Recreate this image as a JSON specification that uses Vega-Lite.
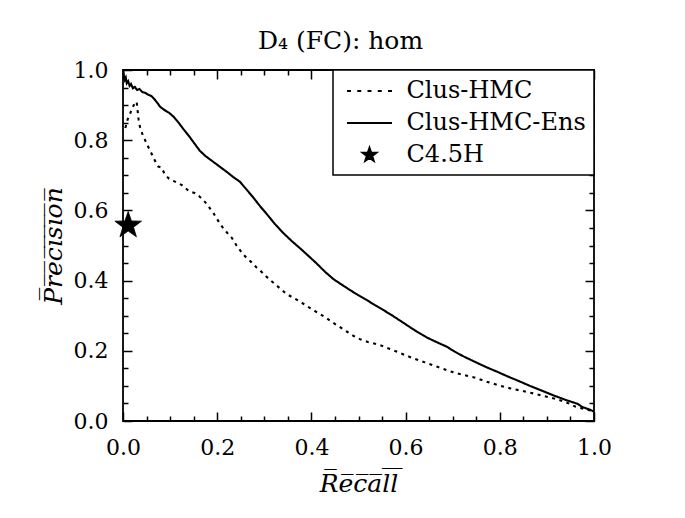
{
  "$schema": "https://vega.github.io/schema/vega-lite/v6.json",
  "width": 471,
  "height": 351,
  "autosize": {"type": "none"},
  "padding": {"left": 123, "top": 70, "right": 91, "bottom": 97},
  "background": "white",
  "title": {"text": "D₄ (FC): hom", "font": "DejaVu Serif", "fontSize": 25, "fontWeight": "normal", "anchor": "middle", "frame": "group", "dx": -18, "offset": 5, "color": "black"},
  "config": {
    "view": {"stroke": "black", "strokeWidth": 1.8},
    "axis": {
      "domain": false,
      "grid": false,
      "zindex": 1,
      "labelFont": "DejaVu Serif",
      "labelFontSize": 22,
      "labelColor": "black",
      "tickColor": "black",
      "tickWidth": 1.5,
      "ticks": true,
      "titleFont": "DejaVu Serif",
      "titleFontSize": 25,
      "titleFontStyle": "italic",
      "titleFontWeight": "normal",
      "titleColor": "black"
    },
    "legend": {
      "orient": "top-right",
      "offset": 0,
      "padding": 8,
      "strokeColor": "black",
      "strokeWidth": 1.5,
      "fillColor": "white",
      "labelFont": "DejaVu Serif",
      "labelFontSize": 24,
      "labelColor": "black",
      "symbolSize": 576,
      "symbolStrokeWidth": 1.8,
      "symbolStrokeColor": "black",
      "symbolOffset": 15.5,
      "labelOffset": 24,
      "rowPadding": 7,
      "labelLimit": 400
    }
  },
  "datasets": {
    "curves": [
      {"series": "Clus-HMC-Ens", "recall": 0.000, "precision": 1.000},
      {"series": "Clus-HMC-Ens", "recall": 0.002, "precision": 0.985},
      {"series": "Clus-HMC-Ens", "recall": 0.004, "precision": 0.972},
      {"series": "Clus-HMC-Ens", "recall": 0.006, "precision": 0.978},
      {"series": "Clus-HMC-Ens", "recall": 0.008, "precision": 0.962},
      {"series": "Clus-HMC-Ens", "recall": 0.011, "precision": 0.968},
      {"series": "Clus-HMC-Ens", "recall": 0.014, "precision": 0.955},
      {"series": "Clus-HMC-Ens", "recall": 0.017, "precision": 0.960},
      {"series": "Clus-HMC-Ens", "recall": 0.021, "precision": 0.948},
      {"series": "Clus-HMC-Ens", "recall": 0.025, "precision": 0.952},
      {"series": "Clus-HMC-Ens", "recall": 0.030, "precision": 0.943},
      {"series": "Clus-HMC-Ens", "recall": 0.035, "precision": 0.946},
      {"series": "Clus-HMC-Ens", "recall": 0.041, "precision": 0.937},
      {"series": "Clus-HMC-Ens", "recall": 0.047, "precision": 0.935},
      {"series": "Clus-HMC-Ens", "recall": 0.053, "precision": 0.930},
      {"series": "Clus-HMC-Ens", "recall": 0.060, "precision": 0.926},
      {"series": "Clus-HMC-Ens", "recall": 0.066, "precision": 0.918},
      {"series": "Clus-HMC-Ens", "recall": 0.072, "precision": 0.908},
      {"series": "Clus-HMC-Ens", "recall": 0.079, "precision": 0.895},
      {"series": "Clus-HMC-Ens", "recall": 0.088, "precision": 0.886},
      {"series": "Clus-HMC-Ens", "recall": 0.098, "precision": 0.878},
      {"series": "Clus-HMC-Ens", "recall": 0.108, "precision": 0.866},
      {"series": "Clus-HMC-Ens", "recall": 0.118, "precision": 0.850},
      {"series": "Clus-HMC-Ens", "recall": 0.128, "precision": 0.832},
      {"series": "Clus-HMC-Ens", "recall": 0.140, "precision": 0.812},
      {"series": "Clus-HMC-Ens", "recall": 0.152, "precision": 0.790},
      {"series": "Clus-HMC-Ens", "recall": 0.163, "precision": 0.770},
      {"series": "Clus-HMC-Ens", "recall": 0.175, "precision": 0.755},
      {"series": "Clus-HMC-Ens", "recall": 0.190, "precision": 0.740},
      {"series": "Clus-HMC-Ens", "recall": 0.206, "precision": 0.724},
      {"series": "Clus-HMC-Ens", "recall": 0.220, "precision": 0.710},
      {"series": "Clus-HMC-Ens", "recall": 0.234, "precision": 0.695},
      {"series": "Clus-HMC-Ens", "recall": 0.248, "precision": 0.682},
      {"series": "Clus-HMC-Ens", "recall": 0.262, "precision": 0.660},
      {"series": "Clus-HMC-Ens", "recall": 0.277, "precision": 0.636},
      {"series": "Clus-HMC-Ens", "recall": 0.291, "precision": 0.612},
      {"series": "Clus-HMC-Ens", "recall": 0.305, "precision": 0.590},
      {"series": "Clus-HMC-Ens", "recall": 0.322, "precision": 0.562},
      {"series": "Clus-HMC-Ens", "recall": 0.340, "precision": 0.536},
      {"series": "Clus-HMC-Ens", "recall": 0.358, "precision": 0.513},
      {"series": "Clus-HMC-Ens", "recall": 0.376, "precision": 0.492},
      {"series": "Clus-HMC-Ens", "recall": 0.394, "precision": 0.470},
      {"series": "Clus-HMC-Ens", "recall": 0.411, "precision": 0.449},
      {"series": "Clus-HMC-Ens", "recall": 0.429, "precision": 0.425},
      {"series": "Clus-HMC-Ens", "recall": 0.447, "precision": 0.404},
      {"series": "Clus-HMC-Ens", "recall": 0.465, "precision": 0.388},
      {"series": "Clus-HMC-Ens", "recall": 0.482, "precision": 0.373},
      {"series": "Clus-HMC-Ens", "recall": 0.500, "precision": 0.358},
      {"series": "Clus-HMC-Ens", "recall": 0.517, "precision": 0.345},
      {"series": "Clus-HMC-Ens", "recall": 0.535, "precision": 0.330},
      {"series": "Clus-HMC-Ens", "recall": 0.553, "precision": 0.316},
      {"series": "Clus-HMC-Ens", "recall": 0.570, "precision": 0.302},
      {"series": "Clus-HMC-Ens", "recall": 0.595, "precision": 0.280},
      {"series": "Clus-HMC-Ens", "recall": 0.620, "precision": 0.258},
      {"series": "Clus-HMC-Ens", "recall": 0.645, "precision": 0.238},
      {"series": "Clus-HMC-Ens", "recall": 0.667, "precision": 0.224},
      {"series": "Clus-HMC-Ens", "recall": 0.687, "precision": 0.212},
      {"series": "Clus-HMC-Ens", "recall": 0.705, "precision": 0.197},
      {"series": "Clus-HMC-Ens", "recall": 0.723, "precision": 0.184},
      {"series": "Clus-HMC-Ens", "recall": 0.748, "precision": 0.168},
      {"series": "Clus-HMC-Ens", "recall": 0.772, "precision": 0.153},
      {"series": "Clus-HMC-Ens", "recall": 0.795, "precision": 0.140},
      {"series": "Clus-HMC-Ens", "recall": 0.815, "precision": 0.128},
      {"series": "Clus-HMC-Ens", "recall": 0.840, "precision": 0.114},
      {"series": "Clus-HMC-Ens", "recall": 0.864, "precision": 0.100},
      {"series": "Clus-HMC-Ens", "recall": 0.890, "precision": 0.086},
      {"series": "Clus-HMC-Ens", "recall": 0.914, "precision": 0.073},
      {"series": "Clus-HMC-Ens", "recall": 0.940, "precision": 0.060},
      {"series": "Clus-HMC-Ens", "recall": 0.965, "precision": 0.049},
      {"series": "Clus-HMC-Ens", "recall": 0.975, "precision": 0.040},
      {"series": "Clus-HMC-Ens", "recall": 0.990, "precision": 0.033},
      {"series": "Clus-HMC-Ens", "recall": 1.000, "precision": 0.027},
      {"series": "Clus-HMC", "recall": 0.005, "precision": 0.835},
      {"series": "Clus-HMC", "recall": 0.010, "precision": 0.860},
      {"series": "Clus-HMC", "recall": 0.015, "precision": 0.875},
      {"series": "Clus-HMC", "recall": 0.020, "precision": 0.893},
      {"series": "Clus-HMC", "recall": 0.025, "precision": 0.905},
      {"series": "Clus-HMC", "recall": 0.029, "precision": 0.910},
      {"series": "Clus-HMC", "recall": 0.031, "precision": 0.885},
      {"series": "Clus-HMC", "recall": 0.033, "precision": 0.860},
      {"series": "Clus-HMC", "recall": 0.036, "precision": 0.838},
      {"series": "Clus-HMC", "recall": 0.041, "precision": 0.818},
      {"series": "Clus-HMC", "recall": 0.047, "precision": 0.800},
      {"series": "Clus-HMC", "recall": 0.052, "precision": 0.785},
      {"series": "Clus-HMC", "recall": 0.057, "precision": 0.772},
      {"series": "Clus-HMC", "recall": 0.064, "precision": 0.752},
      {"series": "Clus-HMC", "recall": 0.070, "precision": 0.736},
      {"series": "Clus-HMC", "recall": 0.075, "precision": 0.725},
      {"series": "Clus-HMC", "recall": 0.082, "precision": 0.722},
      {"series": "Clus-HMC", "recall": 0.089, "precision": 0.702},
      {"series": "Clus-HMC", "recall": 0.098, "precision": 0.690},
      {"series": "Clus-HMC", "recall": 0.107, "precision": 0.684},
      {"series": "Clus-HMC", "recall": 0.116, "precision": 0.678},
      {"series": "Clus-HMC", "recall": 0.125, "precision": 0.672},
      {"series": "Clus-HMC", "recall": 0.139, "precision": 0.656},
      {"series": "Clus-HMC", "recall": 0.146, "precision": 0.652},
      {"series": "Clus-HMC", "recall": 0.153, "precision": 0.649},
      {"series": "Clus-HMC", "recall": 0.163, "precision": 0.639},
      {"series": "Clus-HMC", "recall": 0.170, "precision": 0.630},
      {"series": "Clus-HMC", "recall": 0.178, "precision": 0.618},
      {"series": "Clus-HMC", "recall": 0.185, "precision": 0.605},
      {"series": "Clus-HMC", "recall": 0.192, "precision": 0.592},
      {"series": "Clus-HMC", "recall": 0.199, "precision": 0.577},
      {"series": "Clus-HMC", "recall": 0.206, "precision": 0.562},
      {"series": "Clus-HMC", "recall": 0.213, "precision": 0.549},
      {"series": "Clus-HMC", "recall": 0.222, "precision": 0.535},
      {"series": "Clus-HMC", "recall": 0.231, "precision": 0.522},
      {"series": "Clus-HMC", "recall": 0.241, "precision": 0.500},
      {"series": "Clus-HMC", "recall": 0.252, "precision": 0.480},
      {"series": "Clus-HMC", "recall": 0.262, "precision": 0.465},
      {"series": "Clus-HMC", "recall": 0.273, "precision": 0.452},
      {"series": "Clus-HMC", "recall": 0.283, "precision": 0.438},
      {"series": "Clus-HMC", "recall": 0.294, "precision": 0.425},
      {"series": "Clus-HMC", "recall": 0.303, "precision": 0.413},
      {"series": "Clus-HMC", "recall": 0.312, "precision": 0.402},
      {"series": "Clus-HMC", "recall": 0.323, "precision": 0.390},
      {"series": "Clus-HMC", "recall": 0.333, "precision": 0.378},
      {"series": "Clus-HMC", "recall": 0.342, "precision": 0.368},
      {"series": "Clus-HMC", "recall": 0.351, "precision": 0.359},
      {"series": "Clus-HMC", "recall": 0.363, "precision": 0.350},
      {"series": "Clus-HMC", "recall": 0.376, "precision": 0.340},
      {"series": "Clus-HMC", "recall": 0.390, "precision": 0.328},
      {"series": "Clus-HMC", "recall": 0.404, "precision": 0.316},
      {"series": "Clus-HMC", "recall": 0.418, "precision": 0.305},
      {"series": "Clus-HMC", "recall": 0.432, "precision": 0.293},
      {"series": "Clus-HMC", "recall": 0.446, "precision": 0.280},
      {"series": "Clus-HMC", "recall": 0.460, "precision": 0.268},
      {"series": "Clus-HMC", "recall": 0.475, "precision": 0.255},
      {"series": "Clus-HMC", "recall": 0.490, "precision": 0.242},
      {"series": "Clus-HMC", "recall": 0.505, "precision": 0.232},
      {"series": "Clus-HMC", "recall": 0.520, "precision": 0.225},
      {"series": "Clus-HMC", "recall": 0.533, "precision": 0.221},
      {"series": "Clus-HMC", "recall": 0.546, "precision": 0.216},
      {"series": "Clus-HMC", "recall": 0.567, "precision": 0.205},
      {"series": "Clus-HMC", "recall": 0.588, "precision": 0.194},
      {"series": "Clus-HMC", "recall": 0.602, "precision": 0.186},
      {"series": "Clus-HMC", "recall": 0.616, "precision": 0.179},
      {"series": "Clus-HMC", "recall": 0.641, "precision": 0.167},
      {"series": "Clus-HMC", "recall": 0.666, "precision": 0.155},
      {"series": "Clus-HMC", "recall": 0.687, "precision": 0.145},
      {"series": "Clus-HMC", "recall": 0.708, "precision": 0.136},
      {"series": "Clus-HMC", "recall": 0.730, "precision": 0.129},
      {"series": "Clus-HMC", "recall": 0.751, "precision": 0.122},
      {"series": "Clus-HMC", "recall": 0.765, "precision": 0.115},
      {"series": "Clus-HMC", "recall": 0.779, "precision": 0.109},
      {"series": "Clus-HMC", "recall": 0.800, "precision": 0.101},
      {"series": "Clus-HMC", "recall": 0.822, "precision": 0.093},
      {"series": "Clus-HMC", "recall": 0.843, "precision": 0.087},
      {"series": "Clus-HMC", "recall": 0.864, "precision": 0.081},
      {"series": "Clus-HMC", "recall": 0.885, "precision": 0.074},
      {"series": "Clus-HMC", "recall": 0.907, "precision": 0.067},
      {"series": "Clus-HMC", "recall": 0.923, "precision": 0.061},
      {"series": "Clus-HMC", "recall": 0.938, "precision": 0.055},
      {"series": "Clus-HMC", "recall": 0.950, "precision": 0.048},
      {"series": "Clus-HMC", "recall": 0.960, "precision": 0.041},
      {"series": "Clus-HMC", "recall": 0.975, "precision": 0.036},
      {"series": "Clus-HMC", "recall": 0.990, "precision": 0.031},
      {"series": "Clus-HMC", "recall": 1.000, "precision": 0.028}
    ],
    "points": [
      {"series": "C4.5H", "recall": 0.011, "precision": 0.557}
    ]
  },
  "layer": [
    {
      "data": {"name": "curves"},
      "mark": {"type": "line", "color": "black", "strokeWidth": 2.1, "clip": true},
      "encoding": {
        "x": {
          "field": "recall", "type": "quantitative",
          "scale": {"domain": [0, 1], "nice": false},
          "axis": {
            "orient": "bottom",
            "title": "R\u0305e\u0305c\u0305a\u0305l\u0305l\u0305",
            "values": [0, 0.05, 0.1, 0.15, 0.2, 0.25, 0.3, 0.35, 0.4, 0.45, 0.5, 0.55, 0.6, 0.65, 0.7, 0.75, 0.8, 0.85, 0.9, 0.95, 1],
            "labelExpr": "round(datum.value * 20) % 4 == 0 ? format(datum.value, '.1f') : ''",
            "labelFlush": false,
            "labelOverlap": false,
            "tickSize": {"condition": {"test": "round(datum.value * 20) % 4 == 0", "value": -9}, "value": -5},
            "labelPadding": 25,
            "titlePadding": 9
          }
        },
        "y": {
          "field": "precision", "type": "quantitative",
          "scale": {"domain": [0, 1], "nice": false},
          "axis": {
            "orient": "left",
            "title": "P\u0305r\u0305e\u0305c\u0305i\u0305s\u0305i\u0305o\u0305n\u0305",
            "values": [0, 0.05, 0.1, 0.15, 0.2, 0.25, 0.3, 0.35, 0.4, 0.45, 0.5, 0.55, 0.6, 0.65, 0.7, 0.75, 0.8, 0.85, 0.9, 0.95, 1],
            "labelExpr": "round(datum.value * 20) % 4 == 0 ? format(datum.value, '.1f') : ''",
            "labelFlush": false,
            "labelOverlap": false,
            "tickSize": {"condition": {"test": "round(datum.value * 20) % 4 == 0", "value": -9}, "value": -5},
            "labelPadding": 24,
            "titlePadding": 7
          }
        },
        "detail": {"field": "series", "type": "nominal"},
        "strokeDash": {
          "field": "series", "type": "nominal",
          "scale": {"domain": ["Clus-HMC", "Clus-HMC-Ens"], "range": [[3, 4.5], [1, 0]]},
          "legend": null
        }
      }
    },
    {
      "data": {"name": "points"},
      "mark": {"type": "point", "filled": true, "size": 2007, "strokeWidth": 0.8, "opacity": 1, "clip": false},
      "encoding": {
        "x": {
          "field": "recall", "type": "quantitative",
          "axis": {
            "orient": "top",
            "title": null,
            "values": [0, 0.05, 0.1, 0.15, 0.2, 0.25, 0.3, 0.35, 0.4, 0.45, 0.5, 0.55, 0.6, 0.65, 0.7, 0.75, 0.8, 0.85, 0.9, 0.95, 1],
            "labels": false,
            "tickSize": {"condition": {"test": "round(datum.value * 20) % 4 == 0", "value": -9}, "value": -5}
          }
        },
        "y": {
          "field": "precision", "type": "quantitative",
          "axis": {
            "orient": "right",
            "title": null,
            "values": [0, 0.05, 0.1, 0.15, 0.2, 0.25, 0.3, 0.35, 0.4, 0.45, 0.5, 0.55, 0.6, 0.65, 0.7, 0.75, 0.8, 0.85, 0.9, 0.95, 1],
            "labels": false,
            "tickSize": {"condition": {"test": "round(datum.value * 20) % 4 == 0", "value": -9}, "value": -5}
          }
        },
        "shape": {
          "field": "series", "type": "nominal",
          "scale": {
            "domain": ["Clus-HMC", "Clus-HMC-Ens", "C4.5H"],
            "range": [
              "M-1.875,0H-1.542M-1.021,0H-0.688M-0.167,0H0.166M0.687,0H1.02M1.542,0H1.875",
              "M-1.875,0H1.875",
              "M0,-0.625L0.1469,-0.2023L0.5944,-0.1931L0.2378,0.0773L0.3674,0.5056L0,0.25L-0.3674,0.5056L-0.2378,0.0773L-0.5944,-0.1931L-0.1469,-0.2023Z"
            ]
          },
          "legend": {"title": null}
        },
        "fill": {
          "field": "series", "type": "nominal",
          "scale": {"domain": ["Clus-HMC", "Clus-HMC-Ens", "C4.5H"], "range": ["transparent", "transparent", "black"]},
          "legend": {"title": null}
        },
        "stroke": {
          "field": "series", "type": "nominal",
          "scale": {"domain": ["Clus-HMC", "Clus-HMC-Ens", "C4.5H"], "range": ["black", "black", "black"]},
          "legend": {"title": null}
        }
      }
    }
  ],
  "resolve": {"scale": {"x": "shared", "y": "shared"}}
}
